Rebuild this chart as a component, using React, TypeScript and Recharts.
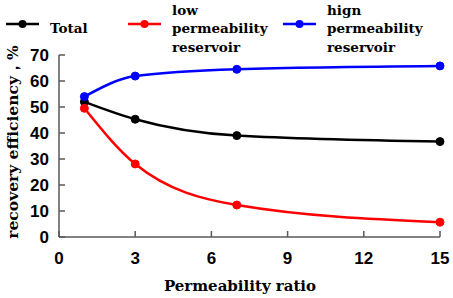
import { LineChart, Line, XAxis, YAxis } from 'recharts';

const ratios = [1, 3, 7, 15];
const totalValues = [52, 45.3, 39, 36.7];
const lowValues = [49.5, 28.1, 12.3, 5.7];
const highValues = [54, 61.9, 64.5, 65.8];

const xTicks = [0, 3, 6, 9, 12, 15];
const yTicks = [0, 10, 20, 30, 40, 50, 60, 70];

const data = ratios.map((r, i) => ({
  ratio: r,
  total: totalValues[i],
  low: lowValues[i],
  high: highValues[i],
}));

const axisColor = '#595959';
const serif = 'DejaVu Serif';
const tickStyle = { fontFamily: 'Liberation Sans, Arial, sans-serif', fontWeight: 700, fontSize: 17 };

// ticks point inward, so draw the tick mark together with the label
const YTick = (props: any) => {
  const { x, y, payload } = props;
  return (
    <g>
      <line x1={x + 10} x2={x + 16} y1={y} y2={y} stroke={axisColor} strokeWidth={1.5} />
      <text x={x} y={y} dy="0.36em" textAnchor="end" fill="#000" style={tickStyle}>
        {payload.value}
      </text>
    </g>
  );
};

const XTick = (props: any) => {
  const { x, y, payload } = props;
  return (
    <g>
      <line x1={x} x2={x} y1={y - 15} y2={y - 21} stroke={axisColor} strokeWidth={1.5} />
      <text x={x} y={y} dy="0.71em" textAnchor="middle" fill="#000" style={tickStyle}>
        {payload.value}
      </text>
    </g>
  );
};

function LegendOverlay() {
  const items = [
    { color: '#000000', x: 6, lines: ['Total'], textY: 33 },
    { color: '#ff0000', x: 128, lines: ['low', 'permeability', 'reservoir'], textY: 14.7 },
    { color: '#0000ff', x: 283, lines: ['hign', 'permeability', 'reservoir'], textY: 14.7 },
  ];
  return (
    <svg width={453} height={60} style={{ position: 'absolute', left: 0, top: 0 }}>
      {items.map((it) => (
        <g key={it.x}>
          <line x1={it.x} x2={it.x + 33} y1={24} y2={24} stroke={it.color} strokeWidth={2.5} />
          <circle cx={it.x + 16.5} cy={24} r={4} fill={it.color} />
          <text fill="#000" fontFamily={serif} fontWeight="bold" fontSize={13.5}>
            {it.lines.map((l, i) => (
              <tspan key={i} x={it.x + 44} y={it.textY + i * 18.5}>
                {l}
              </tspan>
            ))}
          </text>
        </g>
      ))}
    </svg>
  );
}

export default function App() {
  return (
    <div style={{ position: 'absolute', left: 0, top: 0, width: 453, height: 298, background: '#fff' }}>
      <LineChart width={453} height={298} data={data} margin={{ top: 55, right: 13, bottom: 0, left: 0 }}>
        <XAxis
          dataKey="ratio"
          type="number"
          domain={[0, 15]}
          ticks={xTicks}
          interval={0}
          height={61}
          tickSize={0}
          tickMargin={15}
          tickLine={false}
          axisLine={{ stroke: axisColor, strokeWidth: 1.5 }}
          tick={<XTick />}
          label={{
            content: () => (
              <text x={240} y={291} textAnchor="middle" fill="#000" fontFamily={serif} fontWeight="bold" fontSize={15}>
                Permeability ratio
              </text>
            ),
          }}
        />
        <YAxis
          type="number"
          domain={[0, 70]}
          ticks={yTicks}
          interval={0}
          width={59}
          tickSize={0}
          tickMargin={10}
          tickLine={false}
          axisLine={{ stroke: axisColor, strokeWidth: 1.5 }}
          tick={<YTick />}
          label={{
            content: () => (
              <text
                x={18}
                y={142}
                transform="rotate(-90 18 142)"
                textAnchor="middle"
                fill="#000"
                fontFamily={serif}
                fontWeight="bold"
                fontSize={15.5}
              >
                recovery efficiency，%
              </text>
            ),
          }}
        />
        <Line type="monotone" dataKey="total" stroke="#000000" strokeWidth={2.5} dot={{ r: 4, fill: '#000000', stroke: '#000000', strokeWidth: 1 }} isAnimationActive={false} />
        <Line type="monotone" dataKey="low" stroke="#ff0000" strokeWidth={2.5} dot={{ r: 4, fill: '#ff0000', stroke: '#ff0000', strokeWidth: 1 }} isAnimationActive={false} />
        <Line type="monotone" dataKey="high" stroke="#0000ff" strokeWidth={2.5} dot={{ r: 4, fill: '#0000ff', stroke: '#0000ff', strokeWidth: 1 }} isAnimationActive={false} />
      </LineChart>
      <LegendOverlay />
    </div>
  );
}
